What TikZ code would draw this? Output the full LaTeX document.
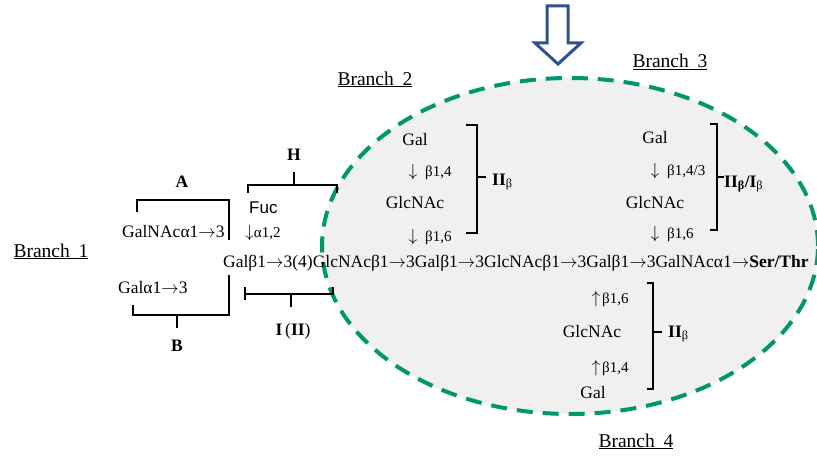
\documentclass[tikz,border=0pt]{standalone}
\usepackage{fix-cm}
\usepackage{fontspec}
\setmainfont{Liberation Serif}
\newfontfamily\arialf{Liberation Sans}
\newcommand\rar{\ensuremath{\rightarrow}}
\newcommand\dar{\ensuremath{\downarrow}}
\newcommand\uar{\ensuremath{\uparrow}}
\definecolor{dashgreen}{RGB}{0,150,110}
\definecolor{arrowblue}{RGB}{47,82,143}
\definecolor{ellfill}{RGB}{240,240,240}
\begin{document}
\begin{tikzpicture}[x=1pt,y=-1pt,
  txt/.style={inner sep=0pt, font=\fontsize{17.5}{20}\selectfont},
  sm/.style={inner sep=0pt, font=\fontsize{15}{17}\selectfont},
  brk/.style={line width=1.8pt, black},
  brlab/.style={inner sep=0pt, font=\fontsize{17.5}{20}\selectfont\bfseries},
  branchlab/.style={inner sep=0pt, font=\fontsize{19.5}{22}\selectfont}]

\path[use as bounding box] (0,0) rectangle (817,460);
\begin{scope}
\clip (0,0) rectangle (817,460);
\fill[ellfill] (570,246) ellipse [x radius=248pt, y radius=168pt];
\draw[dashgreen, line width=4pt, dash pattern=on 16pt off 10pt] (570,246) ellipse [x radius=248pt, y radius=168pt];
\end{scope}

% block arrow
\draw[arrowblue, line width=3pt, fill=white, line join=miter] (547,6) -- (568,6) -- (568,43) -- (581,43) -- (558,64) -- (535,43) -- (547,43) -- cycle;

% branch labels
\node[branchlab, anchor=base] (b1) at (51,257) {\underline{Branch\hspace{0.45em}1}};
\node[branchlab, anchor=base] (b2) at (375,85) {\underline{Branch\hspace{0.45em}2}};
\node[branchlab, anchor=base] (b3) at (670,68) {\underline{Branch\hspace{0.45em}3}};
\node[branchlab, anchor=base] (b4) at (636,447) {\underline{Branch\hspace{0.45em}4}};

% main chain
\node[txt, anchor=base west] (chain) at (223,267) {Galβ1\rar3(4)GlcNAcβ1\rar3Galβ1\rar3GlcNAcβ1\rar3Galβ1\rar3GalNAcα1\rar\textbf{Ser/Thr}};

% branch 1 side
\node[txt, anchor=base west] (galnac) at (122,237) {GalNAcα1\rar3};
\node[txt, anchor=base west] (gala) at (118,293) {Galα1\rar3};
\node[anchor=base west, inner sep=0pt, font=\arialf\fontsize{17}{19}\selectfont] (fuc) at (249,213) {Fuc};
\node[sm, anchor=base west] (a12) at (245,237) {{\fontsize{17.5}{20}\selectfont\dar}α1,2};

\draw[brk] (137,212) -- (137,200) -- (229,200) -- (229,240);
\node[brlab, anchor=base] (labA) at (182,187) {A};
\draw[brk] (133,305) -- (133,315) -- (229,315) -- (229,275);
\draw[brk] (177,315) -- (177,328);
\node[brlab, anchor=base] (labB) at (177,351) {B};
\draw[brk] (248,193) -- (248,185) -- (337,185) -- (337,193);
\draw[brk] (294,185) -- (294,172);
\node[brlab, anchor=base] (labH) at (294,160) {H};
\draw[brk] (245,287) -- (245,300);
\draw[brk] (245,294) -- (333,294) -- (333,287);
\draw[brk] (291,294) -- (291,307);
\node[txt, anchor=base] (labI) at (293,335) {\textbf{I}\,(\textbf{II})};

% branch 2
\node[txt, anchor=base] (g2) at (415,145) {Gal};
\node[txt, anchor=base] (d2a) at (413,176) {\dar};
\node[sm, anchor=base west] (l2a) at (425,176) {β1,4};
\node[txt, anchor=base] (n2) at (415,208) {GlcNAc};
\node[txt, anchor=base] (d2b) at (413,241) {\dar};
\node[sm, anchor=base west] (l2b) at (425,241) {β1,6};
\draw[brk] (466,125) -- (477,125) -- (477,233) -- (466,233);
\draw[brk] (477,177) -- (486,177);
\node[txt, anchor=base west] (II2) at (492,185) {\textbf{II}\textsubscript{β}};

% branch 3
\node[txt, anchor=base] (g3) at (655,143) {Gal};
\node[txt, anchor=base] (d3a) at (655,175) {\dar};
\node[sm, anchor=base west] (l3a) at (667,175) {β1,4/3};
\node[txt, anchor=base] (n3) at (655,208) {GlcNAc};
\node[txt, anchor=base] (d3b) at (655,238) {\dar};
\node[sm, anchor=base west] (l3b) at (667,238) {β1,6};
\draw[brk] (710,124) -- (717,124) -- (717,230) -- (710,230);
\draw[brk] (717,177) -- (724,177);
\node[txt, anchor=base west] (II3) at (724,187) {\textbf{II}\textsubscript{\textbf{β}}\textbf{/I}\textsubscript{β}};

% branch 4
\node[txt, anchor=base] (u4a) at (596,303) {\uar};
\node[sm, anchor=base west] (l4a) at (602,303) {β1,6};
\node[txt, anchor=base] (n4) at (592,337) {GlcNAc};
\node[txt, anchor=base] (u4b) at (596,372) {\uar};
\node[sm, anchor=base west] (l4b) at (602,372) {β1,4};
\node[txt, anchor=base] (g4) at (593,398) {Gal};
\draw[brk] (647,283) -- (653,283) -- (653,389) -- (647,389);
\draw[brk] (653,332) -- (662,332);
\node[txt, anchor=base west] (II4) at (668,337) {\textbf{II}\textsubscript{β}};
\end{tikzpicture}
\end{document}
